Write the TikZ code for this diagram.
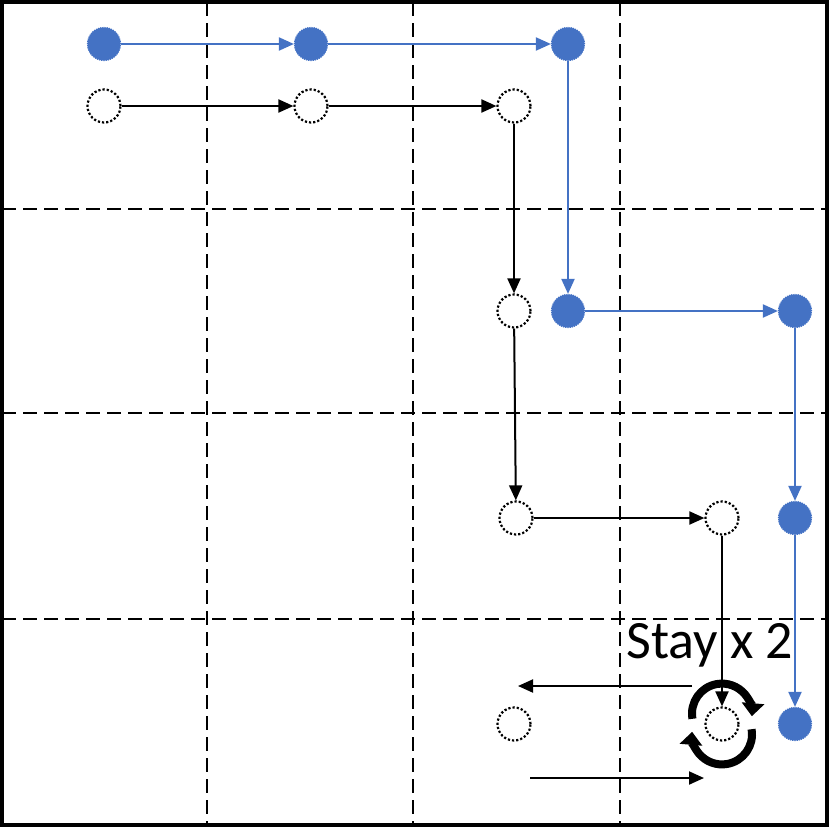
\documentclass[tikz,border=0pt]{standalone}
\usepackage{fontspec}
\setmainfont{Carlito}
\usetikzlibrary{arrows.meta}
\begin{document}
\begin{tikzpicture}[x=1pt,y=-1pt,
  bnode/.style={circle,minimum size=33pt,inner sep=0pt,fill={rgb,255:red,68;green,114;blue,196},draw={rgb,255:red,68;green,114;blue,196},densely dotted,line width=1.2pt},
  knode/.style={circle,minimum size=33pt,inner sep=0pt,draw=black,dotted,line width=2.2pt},
  barrow/.style={draw={rgb,255:red,68;green,114;blue,196},line width=2pt,-{Triangle[length=15pt,width=13pt]}},
  karrow/.style={draw=black,line width=2pt,-{Triangle[length=15pt,width=13pt]}},
  grid/.style={dash pattern=on 14pt off 7pt,line width=2.4pt}]
\useasboundingbox (0,0) rectangle (830,828);
\draw[grid] (207,2)--(207,825) (413,2)--(413,825) (620,2)--(620,825);
\draw[grid] (2,209)--(827,209) (2,413)--(827,413) (2,619)--(827,619);
\draw[line width=4pt] (2,2) rectangle (827,825);
\node[bnode] (b1) at (104,44) {};
\node[bnode] (b2) at (311,44) {};
\node[bnode] (b3) at (568,44) {};
\node[bnode] (b4) at (568,311) {};
\node[bnode] (b5) at (795,311) {};
\node[bnode] (b6) at (795,518) {};
\node[bnode] (b7) at (795,724) {};
\node[knode] (k1) at (104,106) {};
\node[knode] (k2) at (311,106) {};
\node[knode] (k3) at (514,106) {};
\node[knode] (k4) at (514,311) {};
\node[knode] (k5) at (516,518) {};
\node[knode] (k6) at (722,518) {};
\node[knode] (k7) at (722,724) {};
\node[knode] (k8) at (514,724) {};
\draw[barrow] (b1)--(b2);
\draw[barrow] (b2)--(b3);
\draw[barrow] (b3)--(b4);
\draw[barrow] (b4)--(b5);
\draw[barrow] (b5)--(b6);
\draw[barrow] (b6)--(b7);
\draw[karrow] (k1)--(k2);
\draw[karrow] (k2)--(k3);
\draw[karrow] (k3)--(k4);
\draw[karrow] (k4)--(k5);
\draw[karrow] (k5)--(k6);
\draw[karrow] (k6)--(k7);
\coordinate (l1) at (692,686); \coordinate (l2) at (518,686);
\coordinate (r1) at (530,778); \coordinate (r2) at (704,778);
\draw[karrow] (l1)--(l2);
\draw[karrow] (r1)--(r2);
\node (stay) at (710,645) {\fontsize{54}{58}\selectfont Stay x 2};
\coordinate (c) at (722,724);
\draw[line width=8pt,-{Triangle[length=13pt,width=22pt]}] ([shift={(190:30)}]c) arc[start angle=190,end angle=-5,x radius=30,y radius=-30];
\draw[line width=8pt,-{Triangle[length=13pt,width=22pt]}] ([shift={(10:30)}]c) arc[start angle=10,end angle=-185,x radius=30,y radius=-30];
\end{tikzpicture}
\end{document}
